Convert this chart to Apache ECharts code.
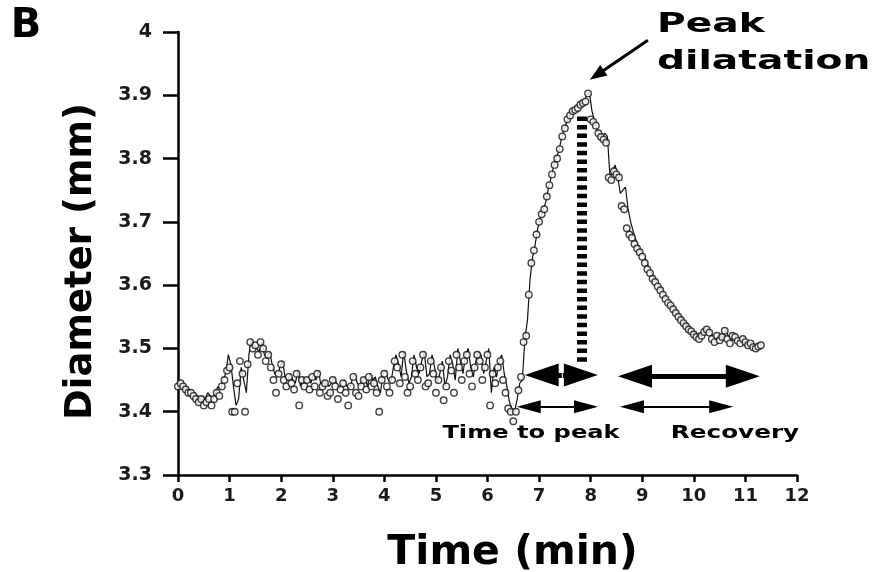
<!DOCTYPE html>
<html>
<head>
<meta charset="utf-8">
<script src="https://cdn.jsdelivr.net/npm/echarts@6/dist/echarts.min.js"></script>
<style>html,body{margin:0;padding:0;background:#fff}#c{width:880px;height:572px}</style>
</head>
<body>
<div id="c"></div>
<script>
// Sampled diameter (open circles): one value every 0.05 min starting at t = 0
var circleStart = 0, circleStep = 0.05;
var circleValues = [
 3.44,3.445,3.44,3.435,3.43,3.43,3.425,3.42,3.415,3.42,
 3.41,3.415,3.42,3.41,3.42,3.43,3.425,3.44,3.45,3.465,
 3.47,3.40,3.40,3.445,3.48,3.46,3.40,3.475,3.51,3.50,
 3.505,3.49,3.51,3.50,3.48,3.49,3.47,3.45,3.43,3.46,
 3.475,3.45,3.44,3.455,3.445,3.435,3.46,3.41,3.45,3.44,
 3.45,3.435,3.455,3.44,3.46,3.43,3.44,3.445,3.425,3.43,
 3.45,3.44,3.42,3.435,3.445,3.43,3.41,3.44,3.455,3.43,
 3.425,3.44,3.45,3.435,3.455,3.44,3.445,3.43,3.40,3.45,
 3.46,3.44,3.43,3.45,3.48,3.47,3.445,3.49,3.455,3.43,
 3.44,3.48,3.46,3.45,3.47,3.49,3.44,3.445,3.48,3.46,
 3.43,3.45,3.47,3.418,3.44,3.48,3.465,3.43,3.49,3.47,
 3.45,3.48,3.49,3.46,3.44,3.47,3.49,3.48,3.45,3.47,
 3.49,3.41,3.46,3.445,3.47,3.48,3.45,3.43,3.405,3.40,
 3.385,3.40,3.434,3.455,3.51,3.52,3.585,3.635,3.655,3.68,
 3.70,3.712,3.72,3.74,3.758,3.775,3.79,3.80,3.815,3.835,
 3.848,3.862,3.868,3.875,3.877,3.88,3.885,3.888,3.89,3.903,
 3.862,3.858,3.852,3.84,3.834,3.83,3.825,3.77,3.766,3.78,
 3.775,3.77,3.725,3.72,3.69,3.68,3.675,3.665,3.658,3.652,
 3.645,3.635,3.625,3.619,3.61,3.605,3.598,3.592,3.585,3.578,
 3.572,3.568,3.562,3.556,3.55,3.545,3.54,3.535,3.53,3.527,
 3.522,3.518,3.515,3.52,3.526,3.53,3.525,3.515,3.51,3.52,
 3.513,3.518,3.528,3.515,3.508,3.52,3.518,3.512,3.508,3.515,
 3.51,3.505,3.508,3.502,3.50,3.503,3.505
];
// Continuous trace (thin line): one value every 0.05 min starting at t = 0.025
var lineStart = 0.025, lineStep = 0.05;
var lineValues = [
 3.445,3.44,3.445,3.435,3.43,3.425,3.43,3.425,3.42,3.425,
 3.42,3.43,3.425,3.42,3.43,3.44,3.435,3.45,3.46,3.49,
 3.475,3.44,3.41,3.42,3.47,3.45,3.43,3.49,3.515,3.505,
 3.50,3.495,3.51,3.49,3.485,3.495,3.475,3.46,3.455,3.47,
 3.48,3.455,3.45,3.46,3.45,3.445,3.465,3.44,3.455,3.45,
 3.455,3.445,3.46,3.45,3.465,3.44,3.45,3.445,3.44,3.445,
 3.455,3.445,3.435,3.445,3.45,3.44,3.435,3.45,3.46,3.445,
 3.44,3.45,3.455,3.44,3.46,3.45,3.455,3.44,3.43,3.46,
 3.465,3.45,3.445,3.47,3.49,3.475,3.455,3.495,3.465,3.445,
 3.455,3.49,3.47,3.46,3.48,3.495,3.455,3.46,3.49,3.47,
 3.445,3.46,3.48,3.44,3.455,3.49,3.475,3.45,3.50,3.48,
 3.46,3.49,3.50,3.47,3.455,3.48,3.495,3.49,3.46,3.48,
 3.50,3.43,3.47,3.455,3.48,3.49,3.46,3.44,3.415,3.405,
 3.40,3.42,3.445,3.45,3.515,3.545,3.61,3.645,3.665,3.69,
 3.705,3.718,3.73,3.75,3.768,3.785,3.80,3.81,3.828,3.845,
 3.855,3.865,3.872,3.878,3.88,3.884,3.888,3.892,3.90,3.905,
 3.875,3.86,3.845,3.838,3.836,3.84,3.835,3.77,3.78,3.79,
 3.77,3.745,3.75,3.755,3.72,3.70,3.685,3.672,3.66,3.654,
 3.648,3.638,3.628,3.62,3.612,3.606,3.60,3.593,3.586,3.58,
 3.574,3.569,3.564,3.558,3.552,3.547,3.542,3.537,3.532,3.528,
 3.524,3.52,3.517,3.522,3.528,3.532,3.527,3.517,3.512,3.522,
 3.515,3.52,3.53,3.517,3.51,3.522,3.52,3.514,3.51,3.517,
 3.512,3.507,3.51,3.504,3.502,3.505
];
var xTicks = [0,1,2,3,4,5,6,7,8,9,10,11,12];
var yTicks = [3.3,3.4,3.5,3.6,3.7,3.8,3.9,4];
// Annotation segments in data units: [t1, v1, t2, v2] (arrow-head centres at the ends)
var peakColumn = [7.83, 3.479, 7.83, 3.872];
var thickArrowTTPLeft = [7.44, 3.458, 7.05, 3.458];
var thickArrowTTPRight = [7.46, 3.458, 7.81, 3.458];
var thickArrowRecovery = [8.86, 3.456, 10.95, 3.456];
var thinArrowTTP = [6.80, 3.408, 7.91, 3.408];
var thinArrowRecovery = [8.80, 3.408, 10.53, 3.408];
var peakPointer = [9.11, 3.987, 8.12, 3.932];

function toPairs(start, step, values){
  return values.map(function(v,i){return [+(start+i*step).toFixed(3), v];});
}
var circleData = toPairs(circleStart, circleStep, circleValues);
var lineData = toPairs(lineStart, lineStep, lineValues);

function seg(a, style, s1, s2, size){
  return [
    {coord:[a[0],a[1]], symbol:s1, symbolSize:size, lineStyle:style},
    {coord:[a[2],a[3]], symbol:s2, symbolSize:size}
  ];
}
var FONT = '"DejaVu Sans", sans-serif';
var thick = {type:'solid', width:5, color:'#000'};
var thin = {type:'solid', width:2, color:'#000'};

var chart = echarts.init(document.getElementById('c'), null, {renderer:'canvas'});
chart.setOption({
  animation:false,
  backgroundColor:'#fff',
  grid:{left:178, right:83, top:32, bottom:97, containLabel:false, outerBoundsMode:'none'},
  xAxis:{type:'value', min:xTicks[0], max:xTicks[xTicks.length-1], interval:1,
    name:'Time (min)', nameLocation:'middle', nameGap:58,
    nameTextStyle:{fontFamily:FONT, fontWeight:'bold', fontSize:41, color:'#000', padding:[0,0,0,50]},
    axisLine:{show:true, onZero:false, lineStyle:{color:'#000', width:2.5}},
    axisTick:{show:true, inside:false, length:7, lineStyle:{color:'#000', width:2.5}},
    axisLabel:{margin:12, fontFamily:FONT, fontWeight:'bold', fontSize:18, color:'#1a1a1a'},
    splitLine:{show:false}},
  yAxis:{type:'value', min:yTicks[0], max:yTicks[yTicks.length-1], interval:0.1,
    name:'Diameter (mm)', nameLocation:'middle', nameGap:78,
    nameTextStyle:{fontFamily:FONT, fontWeight:'bold', fontSize:37, color:'#000', padding:[0,16,0,0]},
    axisLine:{show:true, onZero:false, lineStyle:{color:'#000', width:2.5}},
    axisTick:{show:true, inside:false, length:15, lineStyle:{color:'#000', width:2.5}},
    axisLabel:{margin:26, fontFamily:FONT, fontWeight:'bold', fontSize:19, color:'#1a1a1a',
      formatter:function(v){return String(+v.toFixed(1));}},
    splitLine:{show:false}},
  series:[
    {type:'line', data:lineData, showSymbol:false, symbol:'none', z:2,
     lineStyle:{color:'#111', width:1.2}},
    {type:'scatter', data:circleData, symbol:'circle', symbolSize:6.5, z:3,
     itemStyle:{color:'#fff', borderColor:'#111', borderWidth:1.4}},
    {type:'line', data:[], z:4,
     markLine:{silent:true, animation:false, label:{show:false}, emphasis:{disabled:true},
       data:[
        seg(peakColumn, {type:[4.5,4.1], width:10, color:'#000'}, 'none', 'none', 1),
        seg(thickArrowTTPLeft, thick, 'none', 'triangle', [23,34]),
        seg(thickArrowTTPRight, thick, 'none', 'triangle', [23,34]),
        seg(thickArrowRecovery, thick, 'triangle', 'triangle', [23,34]),
        seg(thinArrowTTP, thin, 'triangle', 'triangle', [13,24]),
        seg(thinArrowRecovery, thin, 'triangle', 'triangle', [13,24]),
        seg(peakPointer, {type:'solid', width:3, color:'#000'}, 'none', 'triangle', [13,17])
       ]}}
  ],
  graphic:[
    {type:'text', x:26, y:27, style:{text:'B', font:'bold 40px '+FONT, fill:'#000', align:'center', verticalAlign:'middle'}},
    {type:'text', x:657, y:25, scaleX:1.45, style:{text:'Peak', font:'bold 27px '+FONT, fill:'#000', align:'left', verticalAlign:'middle'}},
    {type:'text', x:657, y:62, scaleX:1.45, style:{text:'dilatation', font:'bold 27px '+FONT, fill:'#000', align:'left', verticalAlign:'middle'}},
    {type:'text', x:531, y:434, scaleX:1.42, style:{text:'Time to peak', font:'bold 17px '+FONT, fill:'#000', align:'center', verticalAlign:'middle'}},
    {type:'text', x:735, y:434, scaleX:1.45, style:{text:'Recovery', font:'bold 17px '+FONT, fill:'#000', align:'center', verticalAlign:'middle'}}
  ]
});
</script>
</body>
</html>
